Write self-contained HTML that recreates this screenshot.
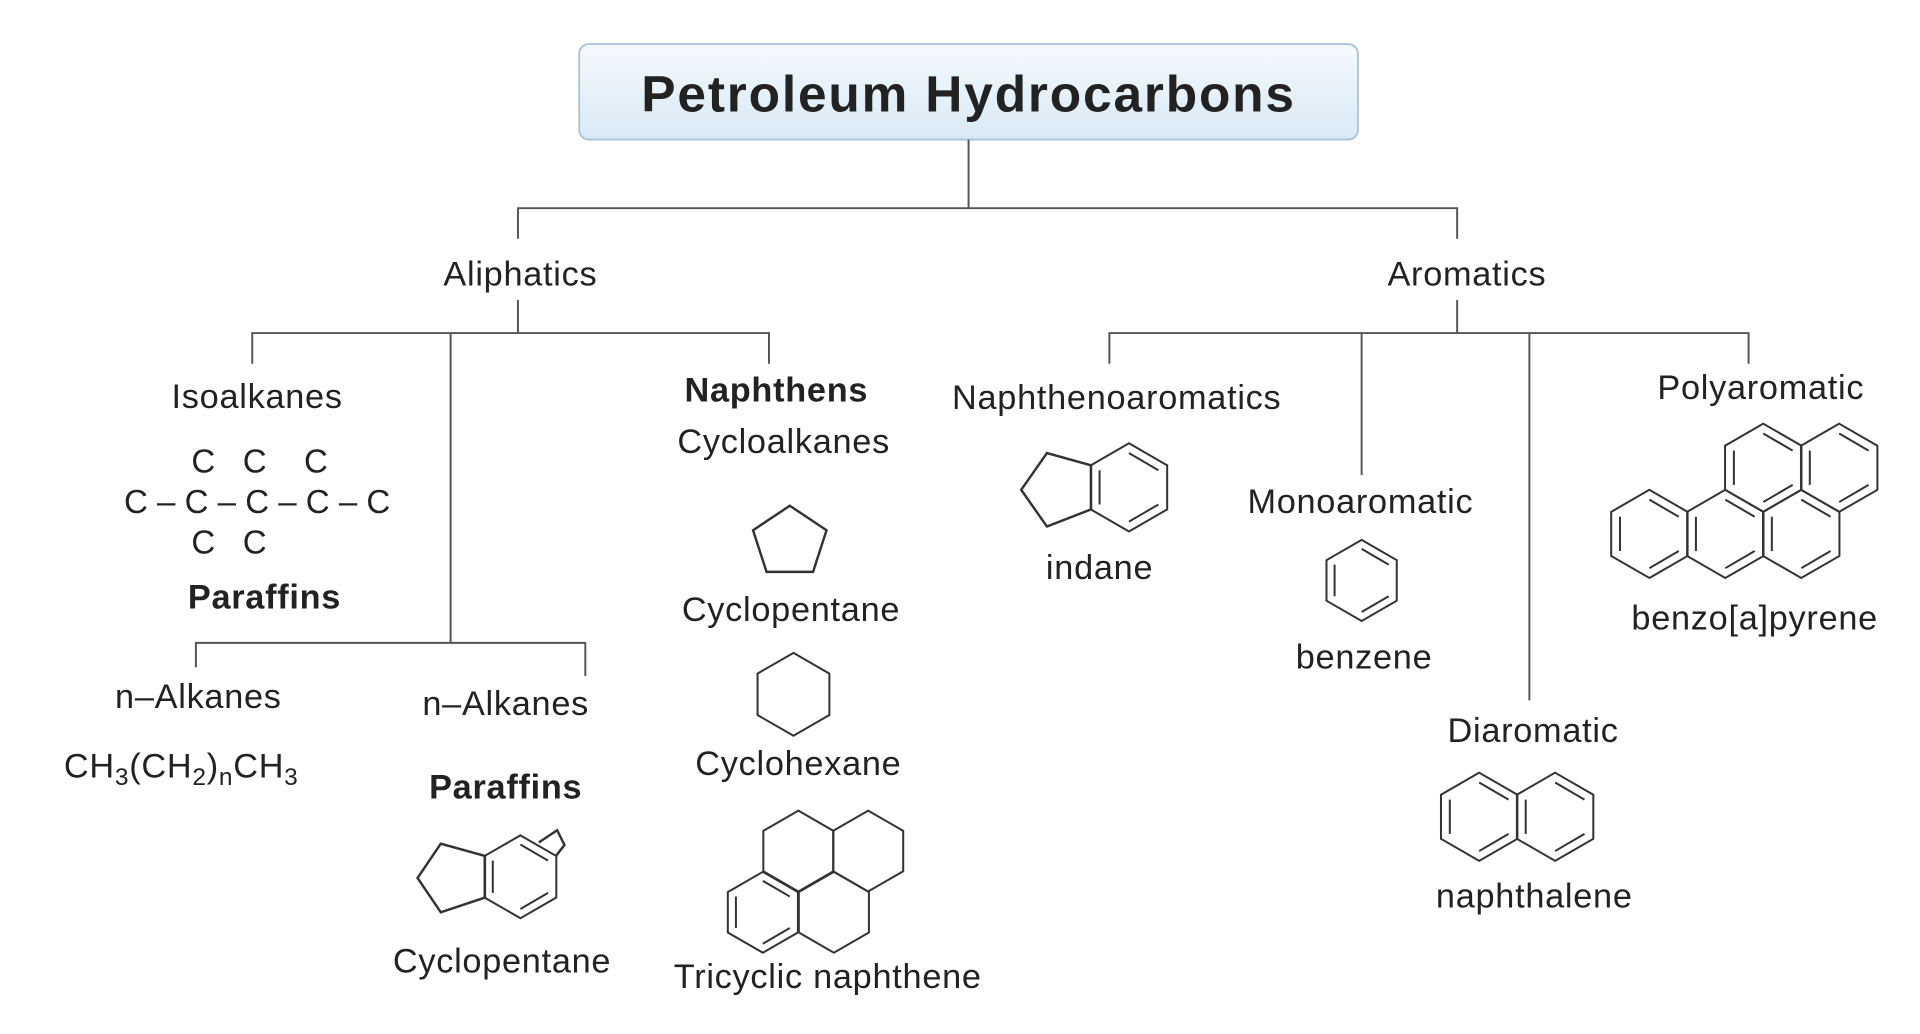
<!DOCTYPE html>
<html><head><meta charset="utf-8"><style>
html,body{margin:0;padding:0;background:#fff;}
svg{display:block;}
text{font-family:"Liberation Sans",sans-serif;fill:#222;}
</style></head><body>
<svg width="1920" height="1034" viewBox="0 0 1568 844.4" preserveAspectRatio="none" xmlns="http://www.w3.org/2000/svg">
<defs>
<linearGradient id="tg" x1="0" y1="0" x2="0" y2="1"><stop offset="0" stop-color="#f4f9fd"/><stop offset="1" stop-color="#d9e9f5"/></linearGradient>
<polygon id="hx" points="0,-36 31.2,-18 31.2,18 0,36 -31.2,18 -31.2,-18" fill="none" stroke="#333" stroke-width="2" vector-effect="non-scaling-stroke"/>
<g id="ar">
<polygon points="0,-36 31.2,-18 31.2,18 0,36 -31.2,18 -31.2,-18" fill="none" stroke="#333" stroke-width="2" vector-effect="non-scaling-stroke"/>
<path d="M0,-28 L24,-14 M24,14 L0,28 M-24,14 L-24,-14" fill="none" stroke="#333" stroke-width="2" vector-effect="non-scaling-stroke"/>
</g>
</defs>
<rect x="0" y="0" width="1568" height="845" fill="#fff"/>
<rect x="473" y="36" width="636" height="78" rx="8" fill="url(#tg)" stroke="#a9c4da" stroke-width="1.5"/>
<text x="791" y="91" font-size="42" font-weight="bold" text-anchor="middle" letter-spacing="1.5" fill="#1e2a36">Petroleum Hydrocarbons</text>
<g stroke="#555" stroke-width="1.6" fill="none">
<path d="M791,114 V170 M423,195 V170 H1190 V195"/>
<path d="M423,245 V272 M206,297 V272 H628 V297 M368,272 V525 M160,545 V525 H478 V552"/>
<path d="M1190,245 V272 M906,297 V272 H1428 V297 M1112,272 V388 M1249,272 V572"/>
</g>
<g font-size="28" text-anchor="middle" letter-spacing="0.6">
<text x="425" y="233">Aliphatics</text>
<text x="1198" y="233">Aromatics</text>
<text x="210" y="333">Isoalkanes</text>
<text x="216" y="497" font-weight="bold">Paraffins</text>
<text x="162" y="578">n–Alkanes</text>
<text x="148" y="635">CH<tspan font-size="20" dy="6">3</tspan><tspan dy="-6">(CH</tspan><tspan font-size="20" dy="6">2</tspan><tspan dy="-6">)</tspan><tspan font-size="20" dy="6">n</tspan><tspan dy="-6">CH</tspan><tspan font-size="20" dy="6">3</tspan></text>
<text x="413" y="584">n–Alkanes</text>
<text x="413" y="652" font-weight="bold">Paraffins</text>
<text x="410" y="794">Cyclopentane</text>
<text x="634" y="328" font-weight="bold">Naphthens</text>
<text x="640" y="370">Cycloalkanes</text>
<text x="646" y="507">Cyclopentane</text>
<text x="652" y="633">Cyclohexane</text>
<text x="676" y="807">Tricyclic naphthene</text>
<text x="912" y="334">Naphthenoaromatics</text>
<text x="898" y="473">indane</text>
<text x="1111" y="419">Monoaromatic</text>
<text x="1114" y="546">benzene</text>
<text x="1252" y="606">Diaromatic</text>
<text x="1253" y="741">naphthalene</text>
<text x="1438" y="326">Polyaromatic</text>
<text x="1433" y="514">benzo[a]pyrene</text>
</g>
<g font-size="27" text-anchor="middle">
<text x="166" y="386">C</text><text x="208" y="386">C</text><text x="258" y="386">C</text>
<text x="210" y="419">C – C – C – C – C</text>
<text x="166" y="452">C</text><text x="208" y="452">C</text>
</g>
<g fill="none" stroke="#333" stroke-width="2">
<polygon points="645,413 675,433 664,467 626,467 615,433"/>
<polygon points="891,380 855,370 834,400 855,430 891,416"/>
<polygon points="396,699 360,689 341,717 360,745 396,733"/>
<path d="M440,688 L455,678 L461,690 L454,699"/>
</g>
<use href="#hx" transform="translate(648,567) scale(0.94)"/>
<use href="#ar" transform="translate(922,398)"/>
<use href="#ar" transform="translate(425,716) scale(0.94)"/>
<use href="#ar" transform="translate(1112,474) scale(0.92)"/>
<use href="#ar" transform="translate(1208,667)"/>
<use href="#ar" transform="translate(1270,667)"/>
<use href="#hx" transform="translate(652,695) scale(0.917)"/>
<use href="#hx" transform="translate(709,695) scale(0.917)"/>
<use href="#ar" transform="translate(623,745) scale(0.917)"/>
<use href="#hx" transform="translate(681,745) scale(0.917)"/>
<use href="#ar" transform="translate(1347,436)"/>
<use href="#ar" transform="translate(1409,436)"/>
<use href="#ar" transform="translate(1471,436)"/>
<use href="#ar" transform="translate(1440,382)"/>
<use href="#ar" transform="translate(1502,382)"/>
</svg>
</body></html>
